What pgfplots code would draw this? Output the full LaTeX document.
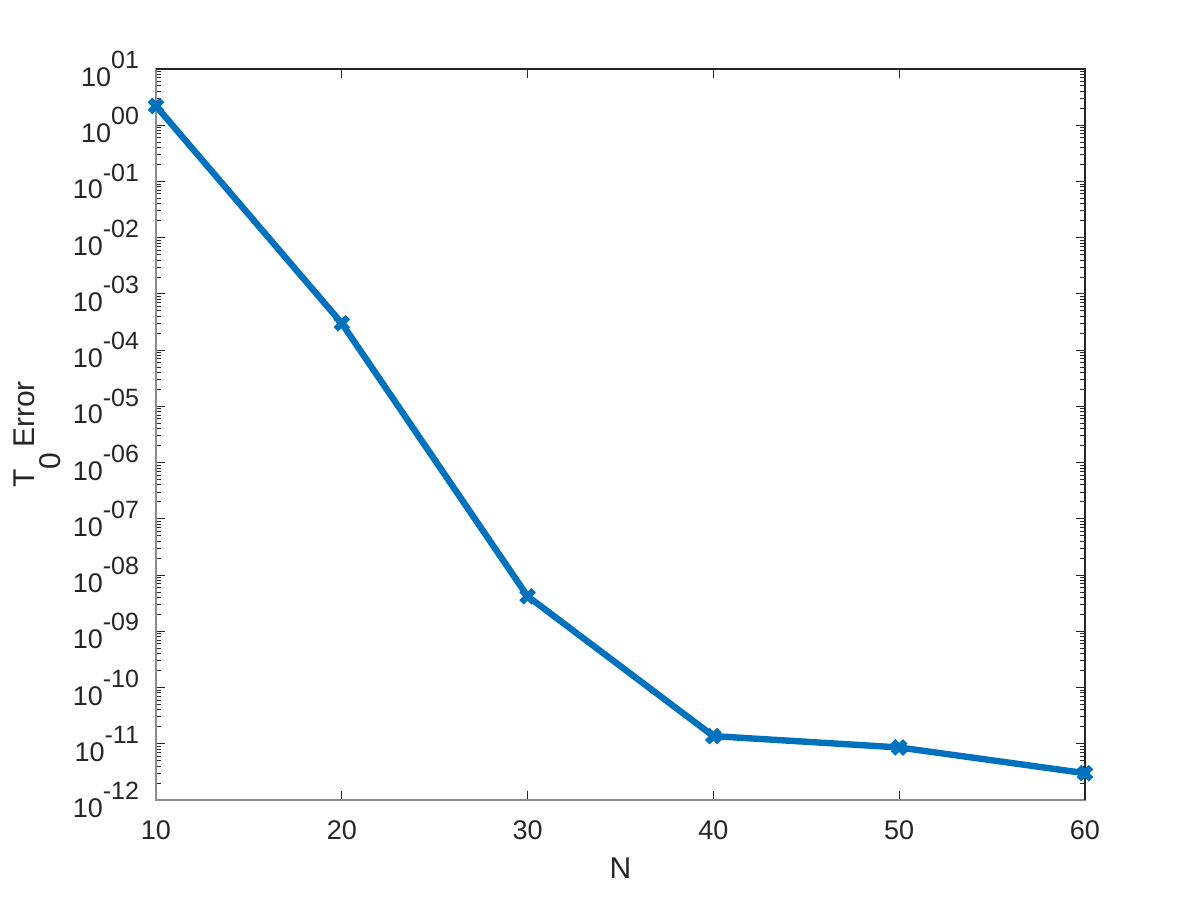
\documentclass[border=0pt]{standalone}
\usepackage{pgfplots}
\pgfplotsset{compat=1.18}
\usepackage{fontspec}
\setmainfont{Liberation Sans}
\definecolor{mblue}{HTML}{0072BD}
\definecolor{axgray}{HTML}{8C8C8C}
\definecolor{txt}{HTML}{262626}
\newcommand{\tl}[1]{10\raisebox{1.25ex}{\fontsize{12.5}{12.5}\selectfont #1}}
\begin{document}
\begin{tikzpicture}
\path[use as bounding box] (0pt,0pt) rectangle (600pt,450pt);
\begin{axis}[
  at={(78pt,50pt)}, anchor=south west,
  scale only axis, width=464.5pt, height=365.5pt,
  ymode=log,
  xmin=10, xmax=60, ymin=1e-12, ymax=10,
  xtick={10,20,30,40,50,60},
  ytick={1e1,1e0,1e-1,1e-2,1e-3,1e-4,1e-5,1e-6,1e-7,1e-8,1e-9,1e-10,1e-11,1e-12},
  yticklabels={\tl{01},\tl{00},\tl{-01},\tl{-02},\tl{-03},\tl{-04},\tl{-05},\tl{-06},\tl{-07},\tl{-08},\tl{-09},\tl{-10},\tl{-11},\tl{-12}},
  minor ytick={2e-12,3e-12,4e-12,5e-12,6e-12,7e-12,8e-12,9e-12,
    2e-11,3e-11,4e-11,5e-11,6e-11,7e-11,8e-11,9e-11,
    2e-10,3e-10,4e-10,5e-10,6e-10,7e-10,8e-10,9e-10,
    2e-9,3e-9,4e-9,5e-9,6e-9,7e-9,8e-9,9e-9,
    2e-8,3e-8,4e-8,5e-8,6e-8,7e-8,8e-8,9e-8,
    2e-7,3e-7,4e-7,5e-7,6e-7,7e-7,8e-7,9e-7,
    2e-6,3e-6,4e-6,5e-6,6e-6,7e-6,8e-6,9e-6,
    2e-5,3e-5,4e-5,5e-5,6e-5,7e-5,8e-5,9e-5,
    2e-4,3e-4,4e-4,5e-4,6e-4,7e-4,8e-4,9e-4,
    2e-3,3e-3,4e-3,5e-3,6e-3,7e-3,8e-3,9e-3,
    2e-2,3e-2,4e-2,5e-2,6e-2,7e-2,8e-2,9e-2,
    2e-1,3e-1,4e-1,5e-1,6e-1,7e-1,8e-1,9e-1,
    2,3,4,5,6,7,8,9},
  xticklabel style={font=\fontsize{13.5}{14}\selectfont, text=txt, yshift=-7pt},
  yticklabel style={font=\fontsize{13.5}{14}\selectfont, text=txt, xshift=-5pt},
  /pgf/number format/assume math mode=true,
  tick align=inside,
  major tick length=4.5pt, minor tick length=2.5pt,
  tick style={txt, line width=0.5pt},
  axis line style={axgray, line width=0.8pt},
  xlabel={N}, ylabel={T\raisebox{-13pt}{0}\,Error},
  label style={font=\fontsize{15}{15}\selectfont, text=txt},
  xlabel style={at={(rel axis cs:0.5,0)}, anchor=center, yshift=-34pt},
  ylabel style={at={(rel axis cs:0,0.5)}, anchor=base, yshift=60.5pt},
  clip=false,
]
\addplot[mblue, line width=3.2pt, mark=x, mark size=4.3pt, mark options={line width=3.2pt}]
coordinates {(10,2.2) (20,3.0e-4) (30,4.2e-9) (40,1.37e-11) (50,8.6e-12) (60,3.0e-12)};
\draw[txt, line width=0.8pt] (rel axis cs:0,1) -- (rel axis cs:1,1) -- (rel axis cs:1,0);
\end{axis}
\end{tikzpicture}
\end{document}
